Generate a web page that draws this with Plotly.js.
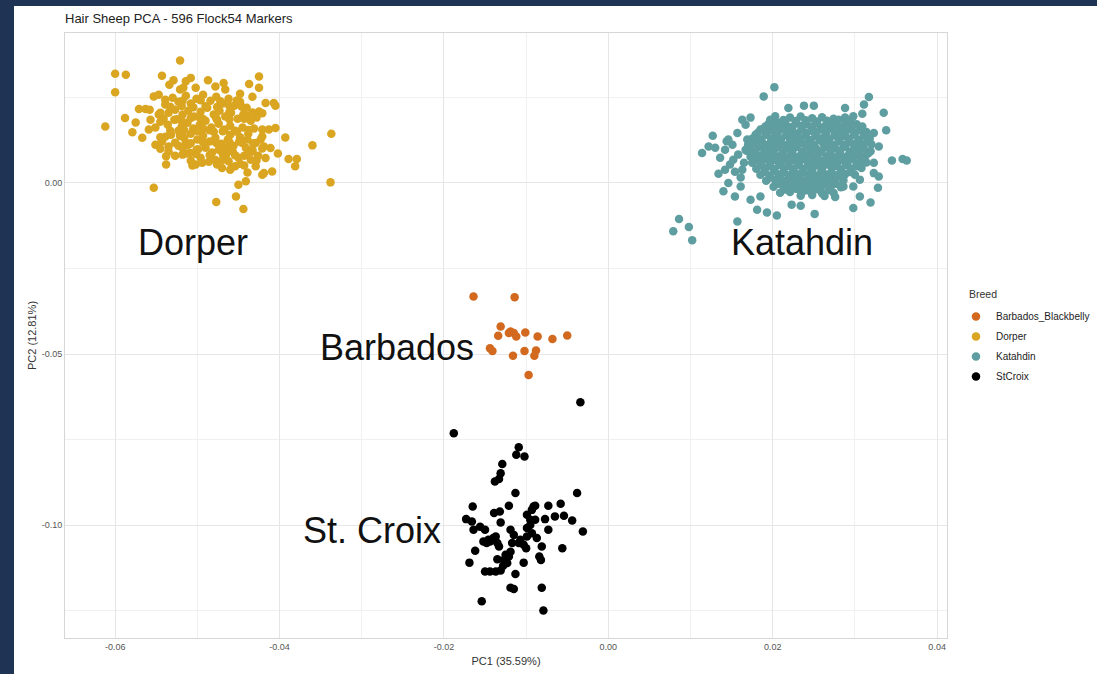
<!DOCTYPE html>
<html>
<head>
<meta charset="utf-8">
<script src="https://cdn.plot.ly/plotly-3.0.1.min.js"></script>
<style>
html,body{margin:0;padding:0;background:#1f3354;width:1097px;height:674px;overflow:hidden;}
#plot{position:absolute;left:14px;top:6px;width:1083px;height:668px;background:#ffffff;}
</style>
</head>
<body>
<div id="plot"></div>
<script>
// ---- Data (PC1, PC2) ----
const breeds = ["Barbados_Blackbelly", "Dorper", "Katahdin", "StCroix"];
const breedColors = ["#D2691E", "#DAA520", "#5F9EA0", "#000000"];

const barbadosPC1 = [-0.0164,-0.0114,-0.0131,-0.0134,-0.0119,-0.0115,-0.0112,-0.0101,-0.0086,-0.0068,-0.0050,-0.0144,-0.0141,-0.0116,-0.0102,-0.0088,-0.0090,-0.0097,-0.0121];
const barbadosPC2 = [-0.0332,-0.0334,-0.0420,-0.0447,-0.0434,-0.0439,-0.0449,-0.0437,-0.0449,-0.0456,-0.0446,-0.0483,-0.0491,-0.0505,-0.0491,-0.0490,-0.0505,-0.0561,-0.0439];

const dorperPC1 = [
-0.0521,-0.0600,-0.0587,-0.0600,-0.0612,-0.0588,-0.0575,-0.0579,-0.0567,-0.0553,-0.0538,-0.0538,-0.0477,-0.0444,-0.0453,-0.0450,-0.0441,-0.0439,-0.0338,-0.0337,
-0.0360,-0.0393,-0.0389,-0.0381,-0.0379,-0.0402,-0.0409,-0.0421,-0.0425,-0.0425,-0.0437,-0.0468,-0.0478,-0.0487,-0.0508,-0.0514,-0.0543,-0.0529,-0.0534,-0.0517,
-0.0417,-0.0407,-0.0405,-0.0425,-0.0433,-0.0439,-0.0405,-0.0413,-0.0421,-0.0423,-0.0429,-0.0433,-0.0419,-0.0411,-0.0417,-0.0429,-0.0419,-0.0454,-0.0458,-0.0470,
-0.0476,-0.0502,-0.0506,-0.0494,-0.0509,-0.0535,-0.0551,-0.0545,-0.0559,-0.0557,-0.0571,-0.0563,-0.0553,-0.0547,-0.0539,
-0.0539,-0.0530,-0.0523,-0.0514,-0.0508,-0.0501,-0.0493,-0.0484,-0.0477,-0.0469,-0.0462,-0.0455,-0.0448,-0.0440,
-0.0535,-0.0527,-0.0518,-0.0511,-0.0504,-0.0496,-0.0488,-0.0480,-0.0473,-0.0466,-0.0459,-0.0451,-0.0444,-0.0435,-0.0428,
-0.0545,-0.0536,-0.0528,-0.0519,-0.0512,-0.0505,-0.0497,-0.0490,-0.0483,-0.0474,-0.0467,-0.0460,-0.0452,-0.0445,-0.0438,-0.0431,
-0.0532,-0.0523,-0.0516,-0.0508,-0.0500,-0.0493,-0.0485,-0.0478,-0.0471,-0.0463,-0.0456,-0.0449,-0.0441,
-0.0523,-0.0514,-0.0501,-0.0490,-0.0482,-0.0474,-0.0465,-0.0457,-0.0450,-0.0443,-0.0435,-0.0496,-0.0486,-0.0469,-0.0448,-0.0513,-0.0527,
-0.0551,-0.0543,-0.0547,-0.0558,-0.0521,-0.0502,-0.0466,-0.0448,-0.0433,-0.0460,-0.0480,-0.0497,-0.0518,-0.0476,-0.0493,-0.0511,-0.0535,-0.0465,-0.0439,-0.0433,-0.0426,-0.0460,-0.0443,
-0.0533,-0.0519,-0.0505,-0.0490,-0.0476,-0.0461,-0.0446,
-0.0541,-0.0525,-0.0508,-0.0493,-0.0477,-0.0461,-0.0443,
-0.0533,-0.0516,-0.0500,-0.0485,-0.0469,-0.0454,-0.0438,
-0.0527,-0.0508,-0.0493,-0.0477,-0.0461,-0.0446,-0.0432,
-0.0518,-0.0502,-0.0485,-0.0469,-0.0454,-0.0439,
-0.0518,-0.0496,-0.0472,-0.0452,-0.0545,-0.0461,-0.0421,-0.0539,-0.0521,-0.0448,-0.0421,
-0.0545,-0.0518,-0.0499,-0.0421,-0.0508,-0.0478,-0.0462,-0.0428
];
const dorperPC2 = [
0.0357,0.0318,0.0315,0.0264,0.0164,0.0189,0.0176,0.0147,0.0131,-0.0015,0.0077,0.0053,-0.0056,-0.0077,-0.0040,-0.0006,0.0004,0.0030,0.0001,0.0143,
0.0109,0.0132,0.0069,0.0048,0.0069,0.0085,0.0033,0.0023,0.0310,0.0277,0.0288,0.0291,0.0281,0.0299,0.0306,0.0296,0.0312,0.0299,0.0286,0.0277,
0.0233,0.0233,0.0225,0.0208,0.0205,0.0194,0.0160,0.0155,0.0155,0.0126,0.0116,0.0091,0.0106,0.0101,0.0072,0.0048,0.0028,0.0048,0.0046,0.0043,
0.0053,0.0053,0.0050,0.0058,0.0087,0.0106,0.0111,0.0133,0.0155,0.0184,0.0215,0.0215,0.0252,0.0257,0.0242,
0.0228,0.0248,0.0236,0.0254,0.0231,0.0245,0.0257,0.0239,0.0251,0.0231,0.0245,0.0225,0.0236,0.0219,
0.0204,0.0213,0.0199,0.0210,0.0193,0.0207,0.0219,0.0199,0.0210,0.0193,0.0204,0.0187,0.0199,0.0181,0.0190,
0.0178,0.0169,0.0184,0.0164,0.0175,0.0158,0.0169,0.0181,0.0161,0.0172,0.0155,0.0166,0.0149,0.0161,0.0143,0.0158,
0.0140,0.0152,0.0131,0.0143,0.0126,0.0137,0.0120,0.0131,0.0114,0.0126,0.0108,0.0120,0.0102,
0.0108,0.0117,0.0096,0.0102,0.0088,0.0096,0.0082,0.0091,0.0073,0.0079,0.0067,0.0073,0.0061,0.0067,0.0055,0.0085,0.0079,
0.0161,0.0120,0.0199,0.0213,0.0272,0.0277,0.0272,0.0260,0.0251,0.0140,0.0149,0.0190,0.0178,0.0184,0.0158,0.0111,0.0091,0.0102,0.0126,0.0096,0.0079,0.0038,0.0050,
0.0222,0.0224,0.0220,0.0223,0.0221,0.0224,0.0222,
0.0187,0.0185,0.0189,0.0186,0.0188,0.0185,0.0187,
0.0152,0.0154,0.0151,0.0153,0.0150,0.0152,0.0154,
0.0117,0.0115,0.0118,0.0116,0.0119,0.0117,0.0115,
0.0082,0.0084,0.0081,0.0083,0.0080,0.0082,
0.0239,0.0241,0.0238,0.0240,0.0204,0.0206,0.0203,0.0134,0.0136,0.0133,0.0135,
0.0099,0.0101,0.0098,0.0100,0.0064,0.0066,0.0063,0.0065
];

const katahdinPC1 = [
0.0202,0.0189,0.0317,0.0311,0.0335,0.0338,0.0345,0.0358,0.0363,0.0328,0.0319,0.0306,0.0298,0.0251,0.0205,0.0193,0.0181,0.0157,0.0086,0.0098,
0.0079,0.0102,0.0114,0.0122,0.0127,0.0144,0.0157,0.0163,0.0134,0.0146,0.0140,0.0154,0.0161,0.0173,0.0185,0.0152,0.0165,0.0169,0.0219,0.0238,
0.0250,0.0288,0.0298,0.0309,0.0323,0.0329,0.0323,0.0323,0.0329,0.0223,0.0234,0.0276,0.0286,0.0298,0.0306,0.0197,0.0203,0.0179,0.0185,
0.0142,0.0151,0.0158,0.0148,0.0163,0.0167,0.0154,0.0146,
0.0221,0.0234,0.0248,0.0260,0.0274,0.0288,
0.0195,0.0207,0.0216,0.0229,0.0241,0.0253,0.0265,0.0277,0.0289,0.0302,
0.0187,0.0199,0.0210,0.0223,0.0235,0.0247,0.0258,0.0270,0.0282,0.0294,0.0306,
0.0181,0.0192,0.0204,0.0216,0.0227,0.0240,0.0252,0.0263,0.0275,0.0287,0.0299,0.0311,
0.0175,0.0187,0.0198,0.0209,0.0221,0.0232,0.0244,0.0257,0.0268,0.0280,0.0292,0.0304,0.0315,
0.0173,0.0184,0.0195,0.0207,0.0218,0.0230,0.0241,0.0253,0.0265,0.0276,0.0288,0.0300,0.0311,
0.0176,0.0189,0.0199,0.0212,0.0223,0.0235,0.0247,0.0258,0.0270,0.0281,0.0293,0.0305,0.0316,
0.0180,0.0191,0.0203,0.0214,0.0226,0.0237,0.0249,0.0261,0.0272,0.0285,0.0296,0.0308,
0.0185,0.0196,0.0208,0.0219,0.0231,0.0243,0.0254,0.0266,0.0277,0.0289,0.0302,
0.0190,0.0202,0.0213,0.0225,0.0236,0.0248,0.0259,0.0271,0.0283,0.0294,
0.0197,0.0209,0.0221,0.0232,0.0244,0.0255,0.0268,0.0280,
0.0207,0.0219,0.0230,0.0242,0.0254,0.0265,0.0277,
0.0215,0.0229,0.0241,0.0254,0.0268,
0.0234,0.0248,0.0263,
0.0201,0.0213,0.0228,0.0240,0.0254,0.0266,0.0280,0.0295,
0.0191,0.0202,0.0213,0.0224,0.0236,0.0248,0.0260,0.0272,0.0285,0.0297,0.0309,
0.0182,0.0193,0.0206,0.0218,0.0230,0.0241,0.0253,0.0265,0.0276,0.0288,0.0300,0.0314,
0.0175,0.0186,0.0198,0.0210,0.0223,0.0234,0.0246,0.0258,0.0269,0.0281,0.0293,0.0305,0.0318,
0.0170,0.0181,0.0192,0.0203,0.0215,0.0226,0.0238,0.0250,0.0262,0.0274,0.0286,0.0298,0.0309,0.0320,
0.0168,0.0179,0.0190,0.0201,0.0213,0.0224,0.0236,0.0247,0.0259,0.0271,0.0282,0.0294,0.0306,0.0319,
0.0173,0.0185,0.0196,0.0208,0.0219,0.0231,0.0243,0.0254,0.0266,0.0277,0.0289,0.0300,0.0312,
0.0175,0.0186,0.0197,0.0209,0.0220,0.0232,0.0243,0.0255,0.0268,0.0279,0.0291,0.0302,0.0314,
0.0180,0.0191,0.0202,0.0214,0.0225,0.0237,0.0248,0.0260,0.0272,0.0283,0.0296,0.0308,
0.0185,0.0196,0.0207,0.0219,0.0230,0.0242,0.0253,0.0265,0.0277,0.0288,0.0300,
0.0192,0.0203,0.0215,0.0226,0.0238,0.0250,0.0261,0.0274,0.0286,
0.0201,0.0213,0.0224,0.0236,0.0248,0.0259,0.0271,0.0283,
0.0209,0.0221,0.0235,0.0247,0.0260,0.0274,
0.0136,0.0130,0.0167,0.0173,0.0142,0.0161
];
const katahdinPC2 = [
0.0279,0.0252,0.0250,0.0228,0.0204,0.0153,0.0065,0.0069,0.0065,-0.0015,-0.0058,-0.0040,-0.0074,-0.0091,-0.0096,-0.0087,-0.0079,-0.0113,-0.0106,-0.0129,
-0.0142,-0.0168,0.0087,0.0106,0.0137,0.0121,0.0145,0.0184,0.0026,-0.0001,-0.0025,-0.0040,-0.0011,-0.0050,-0.0040,0.0067,0.0058,0.0126,0.0218,0.0225,
0.0225,0.0218,0.0194,0.0201,0.0145,0.0106,0.0058,0.0028,0.0018,-0.0064,-0.0067,-0.0042,-0.0011,-0.0011,0.0009,0.0184,0.0194,0.0140,0.0155,
0.0096,0.0111,0.0082,0.0053,0.0038,0.0096,0.0032,0.0126,
0.0190,0.0193,0.0188,0.0191,0.0187,0.0190,
0.0172,0.0175,0.0170,0.0173,0.0171,0.0174,0.0170,0.0172,0.0175,0.0171,
0.0155,0.0153,0.0157,0.0154,0.0156,0.0152,0.0155,0.0158,0.0154,0.0156,0.0153,
0.0137,0.0140,0.0136,0.0138,0.0135,0.0139,0.0137,0.0134,0.0138,0.0136,0.0140,0.0137,
0.0120,0.0118,0.0122,0.0119,0.0121,0.0117,0.0120,0.0123,0.0119,0.0121,0.0118,0.0122,0.0120,
0.0102,0.0105,0.0101,0.0103,0.0100,0.0104,0.0102,0.0099,0.0103,0.0101,0.0105,0.0102,0.0100,
0.0085,0.0083,0.0087,0.0084,0.0086,0.0082,0.0085,0.0088,0.0084,0.0086,0.0083,0.0087,0.0085,
0.0067,0.0070,0.0066,0.0068,0.0065,0.0069,0.0067,0.0064,0.0068,0.0066,0.0070,0.0067,
0.0050,0.0048,0.0052,0.0049,0.0051,0.0047,0.0050,0.0053,0.0049,0.0051,0.0048,
0.0032,0.0035,0.0031,0.0033,0.0030,0.0034,0.0032,0.0029,0.0033,0.0031,
0.0015,0.0013,0.0017,0.0014,0.0016,0.0012,0.0015,0.0018,
-0.0003,0.0000,-0.0004,-0.0002,-0.0005,-0.0001,-0.0003,
-0.0020,-0.0018,-0.0022,-0.0019,-0.0021,
-0.0038,-0.0036,-0.0039,
0.0181,0.0183,0.0180,0.0182,0.0179,0.0181,0.0184,0.0180,
0.0164,0.0162,0.0165,0.0163,0.0166,0.0164,0.0161,0.0165,0.0163,0.0166,0.0164,
0.0146,0.0148,0.0145,0.0147,0.0144,0.0146,0.0149,0.0145,0.0147,0.0144,0.0146,0.0148,
0.0128,0.0126,0.0129,0.0127,0.0130,0.0128,0.0125,0.0129,0.0127,0.0130,0.0128,0.0126,0.0129,
0.0111,0.0113,0.0110,0.0112,0.0109,0.0111,0.0114,0.0110,0.0112,0.0109,0.0111,0.0113,0.0110,0.0112,
0.0093,0.0091,0.0094,0.0092,0.0095,0.0093,0.0090,0.0094,0.0092,0.0095,0.0093,0.0091,0.0094,0.0092,
0.0076,0.0078,0.0075,0.0077,0.0074,0.0076,0.0079,0.0075,0.0077,0.0074,0.0076,0.0078,0.0075,
0.0058,0.0056,0.0059,0.0057,0.0060,0.0058,0.0055,0.0059,0.0057,0.0060,0.0058,0.0056,0.0059,
0.0041,0.0043,0.0040,0.0042,0.0039,0.0041,0.0044,0.0040,0.0042,0.0039,0.0041,0.0043,
0.0023,0.0021,0.0024,0.0022,0.0025,0.0023,0.0020,0.0024,0.0022,0.0025,0.0023,
0.0006,0.0008,0.0005,0.0007,0.0004,0.0006,0.0009,0.0005,0.0007,
-0.0012,-0.0010,-0.0013,-0.0011,-0.0014,-0.0012,-0.0009,-0.0013,
-0.0029,-0.0027,-0.0030,-0.0028,-0.0031,-0.0029,
0.0073,0.0102,0.0169,0.0190,0.0038,0.0015
];

const stcroixPC1 = [
-0.0034,-0.0188,-0.0109,-0.0112,-0.0102,-0.0129,-0.0131,-0.0133,-0.0138,-0.0113,-0.0038,-0.0165,-0.0121,-0.0139,-0.0132,-0.0089,-0.0093,-0.0073,-0.0058,-0.0099,
-0.0095,-0.0077,-0.0065,-0.0054,-0.0044,-0.0031,-0.0173,-0.0166,-0.0164,-0.0156,-0.0150,-0.0131,-0.0119,-0.0115,-0.0099,-0.0093,-0.0087,-0.0073,-0.0152,-0.0146,
-0.0140,-0.0135,-0.0133,-0.0117,-0.0109,-0.0103,-0.0100,-0.0081,-0.0056,-0.0162,-0.0119,-0.0121,-0.0135,-0.0169,-0.0123,-0.0103,-0.0084,-0.0082,-0.0150,-0.0144,
-0.0137,-0.0131,-0.0128,-0.0113,-0.0119,-0.0115,-0.0081,-0.0154,-0.0079,-0.0107,-0.0095,-0.0091,-0.0137,-0.0125,-0.0127,-0.0148,-0.0099,-0.0089,-0.0144
];
const stcroixPC2 = [
-0.0641,-0.0731,-0.0772,-0.0794,-0.0799,-0.0821,-0.0848,-0.0865,-0.0872,-0.0906,-0.0906,-0.0945,-0.0943,-0.0964,-0.0960,-0.0943,-0.0955,-0.0943,-0.0937,-0.0969,
-0.0984,-0.0982,-0.0974,-0.0972,-0.0986,-0.1018,-0.0982,-0.0989,-0.1013,-0.1004,-0.1013,-0.0992,-0.1013,-0.1028,-0.1008,-0.1023,-0.1037,-0.1013,-0.1047,-0.1042,
-0.1037,-0.1052,-0.1062,-0.1052,-0.1052,-0.1057,-0.1067,-0.1062,-0.1067,-0.1074,-0.1077,-0.1091,-0.1099,-0.1109,-0.1110,-0.1109,-0.1091,-0.1101,-0.1135,-0.1135,
-0.1135,-0.1132,-0.1118,-0.1142,-0.1182,-0.1186,-0.1182,-0.1222,-0.1249,-0.1042,-0.0999,-0.0945,-0.1033,-0.1086,-0.1101,-0.1052,-0.1033,-0.0984,-0.1047
];

const xTicks = [-0.06, -0.04, -0.02, 0.00, 0.02, 0.04];
const xTickText = ["-0.06", "-0.04", "-0.02", "0.00", "0.02", "0.04"];
const yTicks = [0.00, -0.05, -0.10];
const yTickText = ["0.00", "-0.05", "-0.10"];

const clusterLabels = ["Dorper", "Katahdin", "Barbados", "St. Croix"];
const labelPC1 = [-0.0505, 0.0236, -0.0257, -0.0288];
const labelPC2 = [-0.0175, -0.0175, -0.0482, -0.1016];

const legendTitle = "Breed";

const xs = [barbadosPC1, dorperPC1, katahdinPC1, stcroixPC1];
const ys = [barbadosPC2, dorperPC2, katahdinPC2, stcroixPC2];

const traces = breeds.map((b, i) => ({
  type: "scatter",
  mode: "markers",
  name: b,
  legendgroup: b,
  x: xs[i],
  y: ys[i],
  marker: {color: breedColors[i], size: 8.5, line: {width: 0}},
  hoverinfo: "x+y+name"
}));

const annotations = clusterLabels.map((t, i) => ({
  text: t, x: labelPC1[i], y: labelPC2[i], xref: "x", yref: "y",
  showarrow: false, xanchor: "center", yanchor: "middle",
  font: {family: "Liberation Sans, Arial, sans-serif", size: 36, color: "#111111"}
}));
annotations.push({
  text: legendTitle, xref: "paper", yref: "paper", x: 1.0227, y: 0.5686,
  xanchor: "left", yanchor: "middle", showarrow: false,
  font: {size: 10.5, color: "#333333"}
});

const layout = {
  width: 1083, height: 668,
  paper_bgcolor: "#ffffff", plot_bgcolor: "#ffffff",
  margin: {l: 51, r: 150, t: 27, b: 36},
  font: {family: "Liberation Sans, Arial, sans-serif", color: "#333333"},
  title: {text: "Hair Sheep PCA - 596 Flock54 Markers", x: 0, xref: "paper", xanchor: "left",
          y: 0.981, yref: "container", yanchor: "middle",
          font: {size: 13, color: "#222222"}},
  xaxis: {
    range: [-0.0661, 0.0412], tickvals: xTicks, ticktext: xTickText,
    showgrid: true, gridcolor: "#e6e6e6", gridwidth: 1,
    minor: {dtick: 0.01, tick0: 0.01, showgrid: true, gridcolor: "#f0f0f0", gridwidth: 1},
    zeroline: false, showline: true, linecolor: "#d6d6d6", linewidth: 1, mirror: true,
    ticks: "", tickfont: {size: 9, color: "#555555"}, automargin: false,
    title: {text: "PC1 (35.59%)", font: {size: 11, color: "#333333"}, standoff: 6}
  },
  yaxis: {
    range: [-0.1329, 0.0437], tickvals: yTicks, ticktext: yTickText,
    showgrid: true, gridcolor: "#e6e6e6", gridwidth: 1,
    minor: {dtick: 0.025, tick0: 0.025, showgrid: true, gridcolor: "#f0f0f0", gridwidth: 1},
    zeroline: false, showline: true, linecolor: "#d6d6d6", linewidth: 1, mirror: true,
    ticks: "", tickfont: {size: 9, color: "#555555"}, automargin: false,
    title: {text: "PC2 (12.81%)", font: {size: 11, color: "#333333"}, standoff: 2}
  },
  legend: {
    xref: "container", yref: "container",
    x: 0.8698, xanchor: "left", y: 0.557, yanchor: "top",
    font: {size: 10, color: "#222222"},
    bgcolor: "rgba(0,0,0,0)", tracegroupgap: 1, traceorder: "grouped"
  },
  annotations: annotations,
  showlegend: true
};

Plotly.newPlot("plot", traces, layout, {displayModeBar: false, staticPlot: true});
</script>
</body>
</html>
